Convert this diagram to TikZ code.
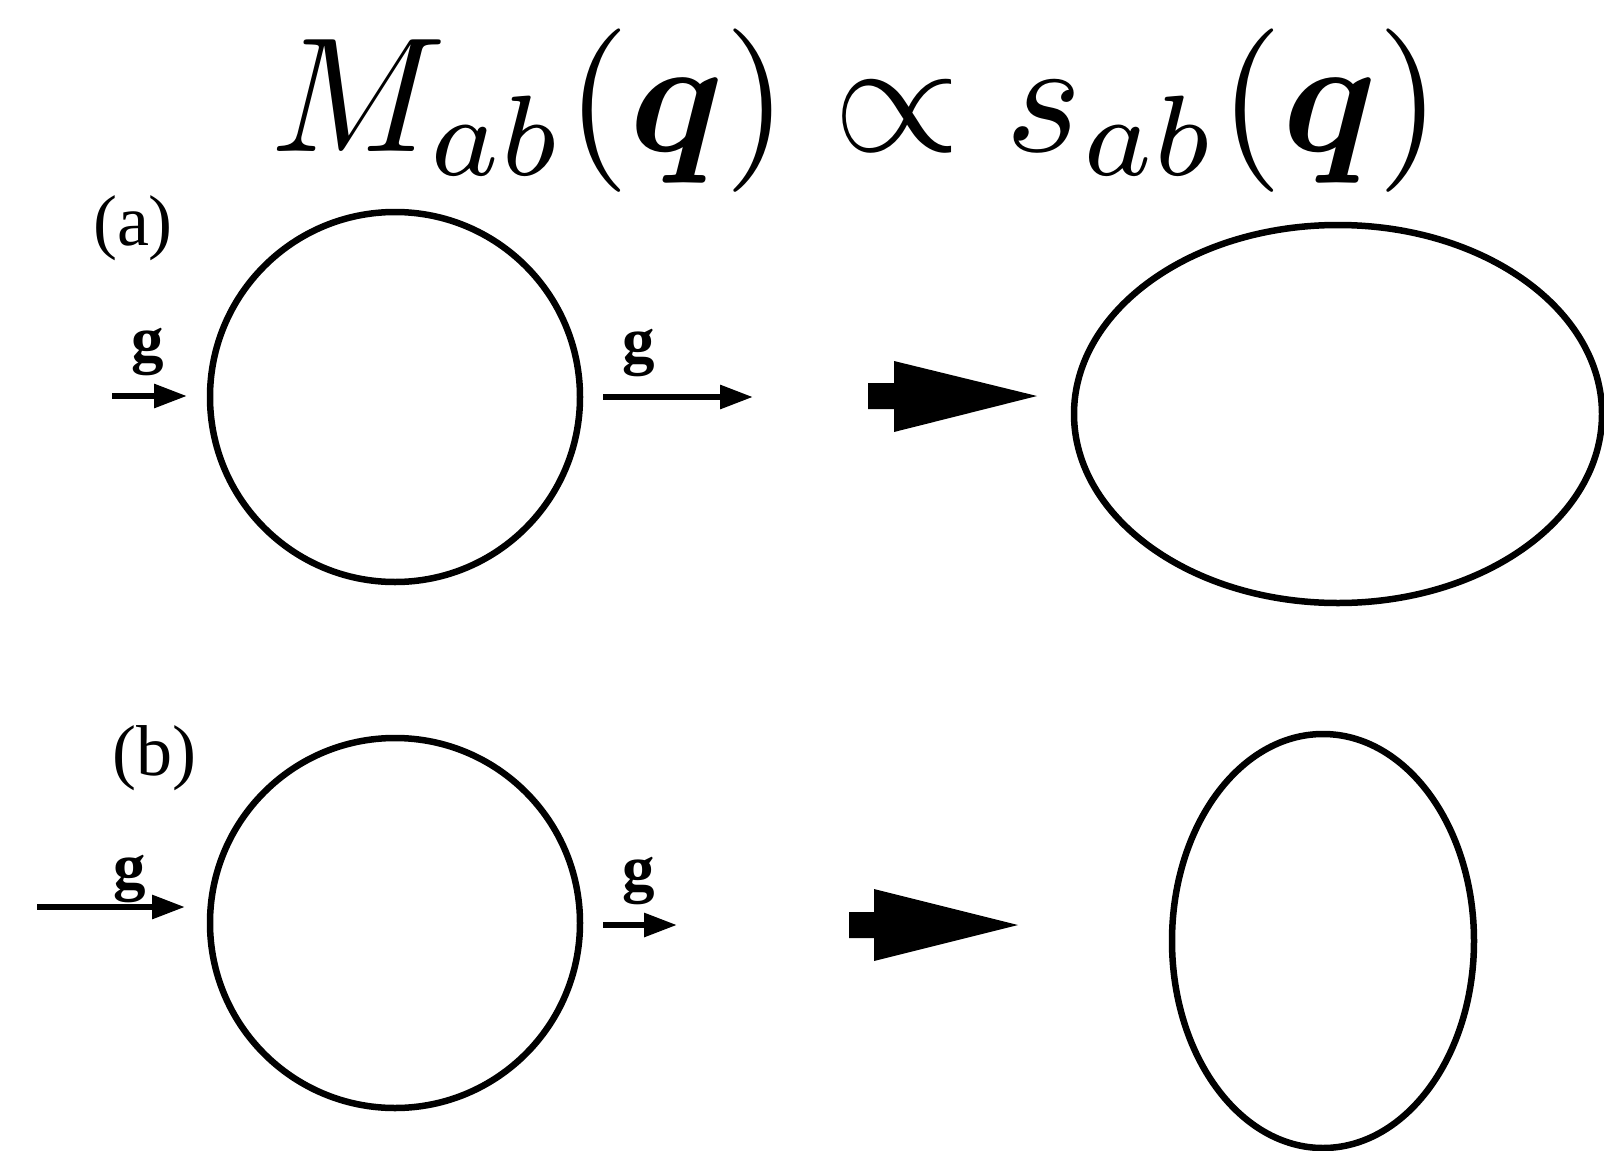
\documentclass[tikz,border=0pt]{standalone}
\usepackage{graphicx}
\usepackage{amsmath,bm}
\usepackage[no-math]{fontspec}
\setmainfont{Liberation Serif}
\usetikzlibrary{arrows.meta,shapes.geometric,calc}
\begin{document}
\begin{tikzpicture}[x=1pt,y=-1pt,
  outl/.style={draw,line width=6.5pt,inner sep=0pt,outer sep=0pt},
  small/.style={line width=6pt,-{Triangle[length=33pt,width=23pt]}},
  glabel/.style={font=\fontsize{65}{70}\selectfont\bfseries,inner sep=0pt},
  plabel/.style={font=\fontsize{72}{80}\selectfont,inner sep=0pt},
  block/.style={fill=black,draw=none}]
\useasboundingbox (0,0) rectangle (1604,1151);
% title
\node[anchor=base,inner sep=0pt] (title) at (856,151)
  {\scalebox{16.35}{\fontsize{10}{12}\selectfont$M_{ab}(\bm{q}) \propto s_{ab}(\bm{q})$}};
% panel labels
\node[plabel] (la) at (133,228) {(a)};
\node[plabel] (lb) at (154,758) {(b)};
% shapes
\node[outl,circle,minimum size=370pt] (ca) at (395,397) {};
\node[outl,ellipse,minimum width=528pt,minimum height=378pt] (ea) at (1338,414) {};
\node[outl,circle,minimum size=370pt] (cb) at (395,923) {};
\node[outl,ellipse,minimum width=302pt,minimum height=414pt] (eb) at (1323,941) {};
% small arrows (a)
\coordinate (a1s) at (112,396); \coordinate (a1e) at (187,396);
\coordinate (a2s) at (603,397); \coordinate (a2e) at (753,397);
\draw[small] (a1s) -- (a1e);
\draw[small] (a2s) -- (a2e);
\node[glabel] (ga1) at (148,352) {g};
\node[glabel] (ga2) at (639,353) {g};
% small arrows (b)
\coordinate (b1s) at (37,907); \coordinate (b1e) at (185,907);
\coordinate (b2s) at (603,925); \coordinate (b2e) at (677,925);
\draw[small] (b1s) -- (b1e);
\draw[small] (b2s) -- (b2e);
\node[glabel] (gb1) at (130,879) {g};
\node[glabel] (gb2) at (639,881) {g};
% block arrows
\coordinate (A) at (868,396);
\fill[block] ($(A)+(0,-13)$) -- ++(26,0) -- ++(0,-22) -- (1037,396) -- (894,432) -- ++(0,-23) -- ($(A)+(0,13)$) -- cycle;
\coordinate (B) at (849,925);
\fill[block] ($(B)+(0,-13)$) -- ++(25,0) -- ++(0,-23) -- (1018,925) -- (874,961) -- ++(0,-23) -- ($(B)+(0,13)$) -- cycle;
\end{tikzpicture}
\end{document}
